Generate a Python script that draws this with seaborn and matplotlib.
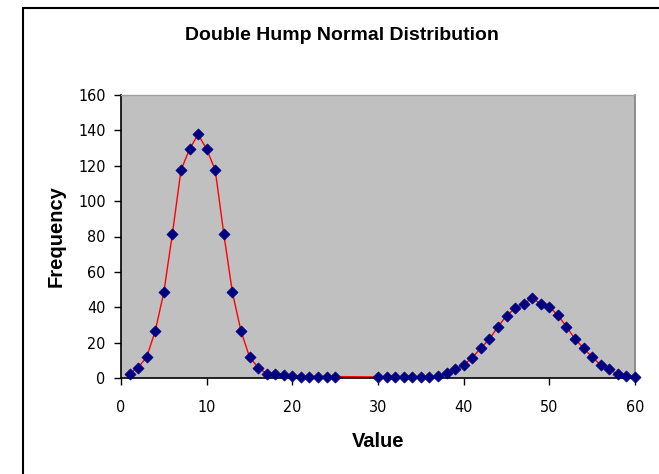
import matplotlib
matplotlib.use("Agg")
import matplotlib.pyplot as plt
import seaborn as sns
import pandas as pd
from matplotlib.patches import Rectangle
from matplotlib import font_manager

values = list(range(1, 26)) + list(range(30, 61))
frequency = [2.5, 5.9, 11.9, 26.6, 48.5, 81.5, 117.5, 129.4, 137.7, 129.4,
             117.5, 81.5, 48.5, 26.6, 11.9, 5.9, 2.5, 2.3, 1.8, 1.3,
             0.8, 0.8, 0.8, 0.8, 0.8,
             0.6, 0.6, 0.6, 0.6, 0.6, 0.6, 0.6, 1.0, 2.6, 4.9,
             7.3, 11.5, 16.9, 22.0, 28.9, 35.3, 39.3, 42.0, 45.0, 42.0,
             40.2, 35.5, 29.0, 22.0, 16.9, 11.8, 7.3, 4.9, 2.0, 1.2, 0.6]
x_ticks = [0, 10, 20, 30, 40, 50, 60]
y_ticks = [0, 20, 40, 60, 80, 100, 120, 140, 160]

df = pd.DataFrame({"Value": values, "Frequency": frequency})

sns.set_theme(style="white")
plt.rcParams['font.family'] = ['Liberation Sans', 'DejaVu Sans']
plt.rcParams['text.color'] = 'black'
plt.rcParams['axes.labelcolor'] = 'black'
plt.rcParams['xtick.color'] = 'black'
plt.rcParams['ytick.color'] = 'black'

tick_font = font_manager.FontProperties(family="DejaVu Sans", stretch="condensed", size=11.5)

fig = plt.figure(figsize=(6.59, 4.74), dpi=100)
fig.patch.set_facecolor("white")
ax = fig.add_axes([121/659, 1-378/474, (635-121)/659, (378-95)/474])
ax.set_facecolor("#C0C0C0")

sns.lineplot(data=df, x="Value", y="Frequency", ax=ax, color="#FF0000",
             linewidth=1.0, sort=False, zorder=2)
sns.scatterplot(data=df, x="Value", y="Frequency", ax=ax, color="#000080",
                marker="D", s=32, edgecolor="#000080", linewidth=0.5, zorder=3,
                clip_on=False)

ax.set_xlim(0, 60)
ax.set_ylim(0, 160)
ax.set_xticks(x_ticks)
ax.set_yticks(y_ticks)
ax.set_xticklabels([str(t) for t in x_ticks], fontproperties=tick_font)
ax.set_yticklabels([str(t) for t in y_ticks], fontproperties=tick_font)
ax.tick_params(axis="x", direction="out", length=5, width=1, color="black",
               labelcolor="black", bottom=True, pad=11)
ax.tick_params(axis="y", direction="out", length=5, width=1, color="black",
               labelcolor="black", left=True, pad=6)

for side in ["left", "bottom"]:
    ax.spines[side].set_color("black")
    ax.spines[side].set_linewidth(1.2)
ax.spines["top"].set_color("#A0A0A0")
ax.spines["top"].set_linewidth(1)
ax.spines["right"].set_color("#808080")
ax.spines["right"].set_linewidth(1.2)

ax.set_xlabel("Value", fontsize=14.5, fontweight="bold", labelpad=12, color="black")
ax.set_ylabel("Frequency", fontsize=14.5, fontweight="bold", labelpad=9, color="black")

fig.text(342/659, 1-35/474, "Double Hump Normal Distribution", ha="center",
         va="center", fontsize=14, fontweight="bold", color="black")

fig.patches.append(Rectangle((23/659, -0.1), 1.0, 1-8/474+0.1,
                             transform=fig.transFigure, fill=False,
                             edgecolor="black", linewidth=1.5))

fig.savefig("out.png", dpi=100)
